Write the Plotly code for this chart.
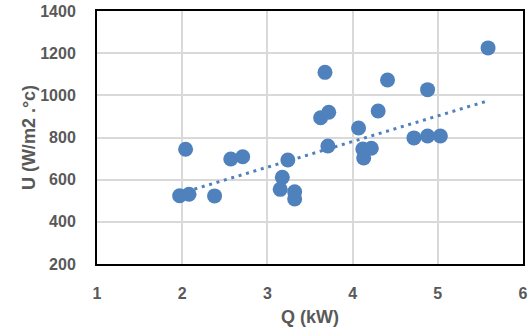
import plotly.graph_objects as go

# Data
q_kw = [1.97, 2.08, 2.38, 2.04, 2.57, 2.71, 3.24, 3.175, 3.15, 3.32, 3.32,
        3.625, 3.72, 3.676, 3.71, 4.07, 4.30, 4.41, 4.12, 4.22, 4.13,
        4.72, 4.88, 5.03, 4.88, 5.59]
u_val = [524, 531, 523, 744, 698, 709, 693, 611, 554, 543, 508,
         894, 920, 1109, 760, 845, 926, 1073, 745, 749, 703,
         798, 807, 807, 1027, 1225]

# Linear trendline as drawn in the reference (end points)
trend_q = [1.97, 5.58]
trend_u = [534, 973]

x_ticks = [1, 2, 3, 4, 5, 6]
y_ticks = [200, 400, 600, 800, 1000, 1200, 1400]

color = "#4F81BD"
grey = "#595959"
font_family = "Liberation Sans, Arial, sans-serif"

fig = go.Figure()
fig.add_trace(go.Scatter(x=trend_q, y=trend_u, mode="lines",
                         line=dict(color=color, width=3, dash="3px,4.7px"),
                         showlegend=False))
fig.add_trace(go.Scatter(x=q_kw, y=u_val, mode="markers",
                         marker=dict(size=15, color=color), showlegend=False))

tick_font = dict(size=16, family=font_family, color=grey, weight="bold")
title_font = dict(size=18, family=font_family, color=grey, weight="bold")

fig.update_layout(
    width=532, height=331,
    margin=dict(l=97, r=9, t=11, b=67),
    plot_bgcolor="white", paper_bgcolor="white",
    font=dict(family=font_family, color=grey, size=16),
    xaxis=dict(range=[1, 6], tickvals=x_ticks, showgrid=True, gridcolor="#D9D9D9",
               gridwidth=1.5, showline=True, linecolor="black", linewidth=2, mirror=True,
               zeroline=False, ticks="", ticklabelstandoff=14, automargin=False,
               tickfont=tick_font,
               title=dict(text="Q (kW)", standoff=9, font=title_font)),
    yaxis=dict(range=[200, 1400], tickvals=y_ticks, showgrid=True, gridcolor="#D9D9D9",
               gridwidth=1.5, showline=True, linecolor="black", linewidth=2, mirror=True,
               zeroline=False, ticks="", ticklabelstandoff=16, automargin=False,
               tickfont=tick_font,
               title=dict(text="U (W/m2 .°c)", standoff=0, font=title_font)),
)

fig.write_html("out.html")
